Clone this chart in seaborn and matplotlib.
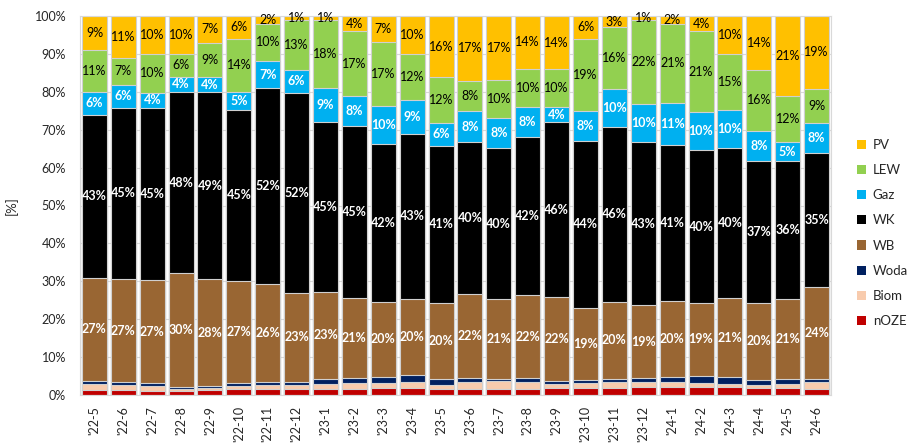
import numpy as np
import pandas as pd

import matplotlib
matplotlib.use("Agg")
import matplotlib.pyplot as plt
import matplotlib.patches as mpatches
import seaborn as sns

months = ["'22-5", "'22-6", "'22-7", "'22-8", "'22-9", "'22-10", "'22-11", "'22-12",
          "'23-1", "'23-2", "'23-3", "'23-4", "'23-5", "'23-6", "'23-7", "'23-8",
          "'23-9", "'23-10", "'23-11", "'23-12", "'24-1", "'24-2", "'24-3", "'24-4",
          "'24-5", "'24-6"]

# shares [%], bottom to top of the stack
noze = [1.3, 1.3, 1.05, 1.05, 1.4, 1.6, 1.6, 1.6, 1.7, 1.7, 1.75, 1.9, 1.6,
        1.7, 1.7, 1.7, 1.9, 1.75, 1.9, 2.0, 2.0, 2.2, 2.0, 1.9, 1.9, 1.7]
biom = [1.5, 1.3, 1.3, 0.5, 0.35, 0.8, 1.1, 1.1, 1.3, 1.4, 1.5, 1.6, 1.0,
        1.75, 1.9, 1.8, 1.1, 1.5, 1.4, 1.3, 1.3, 1.0, 1.05, 0.6, 1.1, 1.75]
woda = [1.0, 0.8, 0.7, 0.6, 0.6, 0.9, 0.7, 0.8, 1.3, 1.4, 1.6, 1.75, 1.6,
        0.9, 0.7, 1.0, 0.8, 0.8, 1.0, 1.2, 1.5, 1.8, 1.7, 1.5, 1.2, 0.8]
wb = [27, 27, 27, 30, 28, 27, 26, 23, 23, 21, 20, 20, 20,
      22, 21, 22, 22, 19, 20, 19, 20, 19, 21, 20, 21, 24]
wk = [43, 45, 45, 48, 49, 45, 52, 52, 45, 45, 42, 43, 41,
      40, 40, 42, 46, 44, 46, 43, 41, 40, 40, 37, 36, 35]
gaz = [6, 6, 4, 4, 4, 5, 7, 6, 9, 8, 10, 9, 6,
       8, 8, 8, 4, 8, 10, 10, 11, 10, 10, 8, 5, 8]
lew = [11, 7, 10, 6, 9, 14, 10, 13, 18, 17, 17, 12, 12,
       8, 10, 10, 10, 19, 16, 22, 21, 21, 15, 16, 12, 9]
pv = [9, 11, 10, 10, 7, 6, 2, 1, 1, 4, 7, 10, 16,
      17, 17, 14, 14, 6, 3, 1, 2, 4, 10, 14, 21, 19]

sources = ["nOZE", "Biom", "Woda", "WB", "WK", "Gaz", "LEW", "PV"]
colors = {
    "nOZE": "#C00000", "Biom": "#F8CBAD", "Woda": "#002060", "WB": "#996633",
    "WK": "#000000", "Gaz": "#00B0F0", "LEW": "#92D050", "PV": "#FFC000",
}
labelled = {"WB": "white", "WK": "white", "Gaz": "white", "LEW": "black", "PV": "black"}

sns.set_style("white")
plt.rcParams["font.family"] = ["Lato", "DejaVu Sans"]

raw = pd.DataFrame(dict(zip(sources, [noze, biom, woda, wb, wk, gaz, lew, pv])), index=months)
share = raw.div(raw.sum(axis=1), axis=0) * 100  # 100% stacked
cum = share.cumsum(axis=1)

fig = plt.figure(figsize=(9.09, 4.46), dpi=100)
ax = fig.add_axes([80 / 909, 1 - 395 / 446, 751 / 909, 379 / 446])

# stacked bars: draw cumulative totals from the top layer down
for src in reversed(sources):
    df = pd.DataFrame({"month": months, "val": cum[src].values})
    sns.barplot(data=df, x="month", y="val", order=months, color=colors[src],
                saturation=1, width=0.865, edgecolor="#d0d0d0", linewidth=0.8,
                ax=ax, zorder=2)

# value labels in the middle of each segment
for src, tcol in labelled.items():
    mid = cum[src] - share[src] / 2
    for i, m in enumerate(months):
        ax.text(i, mid[m], f"{raw.loc[m, src]:.0f}%", ha="center", va="center",
                color=tcol, fontsize=9,
                fontweight="bold" if tcol == "white" else "normal", zorder=3)

ax.set_ylim(0, 100)
ax.set_xlim(-0.5, len(months) - 0.5)
ax.set_yticks(range(0, 101, 10))
ax.set_yticklabels([f"{v}%" for v in range(0, 101, 10)], fontsize=9)
ax.yaxis.grid(True, color="#d9d9d9", linewidth=0.8, zorder=0)
ax.set_axisbelow(True)
ax.tick_params(axis="x", labelrotation=90, labelsize=9, length=0, pad=8)
ax.tick_params(axis="y", length=0, pad=10)
ax.set_xlabel("")
ax.set_ylabel("[%]", fontsize=9.5, labelpad=12)
for side in ["top", "right", "left", "bottom"]:
    ax.spines[side].set_color("#d9d9d9")
    ax.spines[side].set_linewidth(0.8)

handles = [mpatches.Patch(facecolor=colors[s], edgecolor="none", label=s)
           for s in reversed(sources)]
fig.legend(handles=handles, loc="upper left", bbox_to_anchor=(845 / 909, 1 - 127 / 446),
           frameon=False, fontsize=9.5, handlelength=0.7, handleheight=0.7,
           handletextpad=0.5, labelspacing=1.0)

fig.savefig("out.png", dpi=100)
plt.close(fig)
